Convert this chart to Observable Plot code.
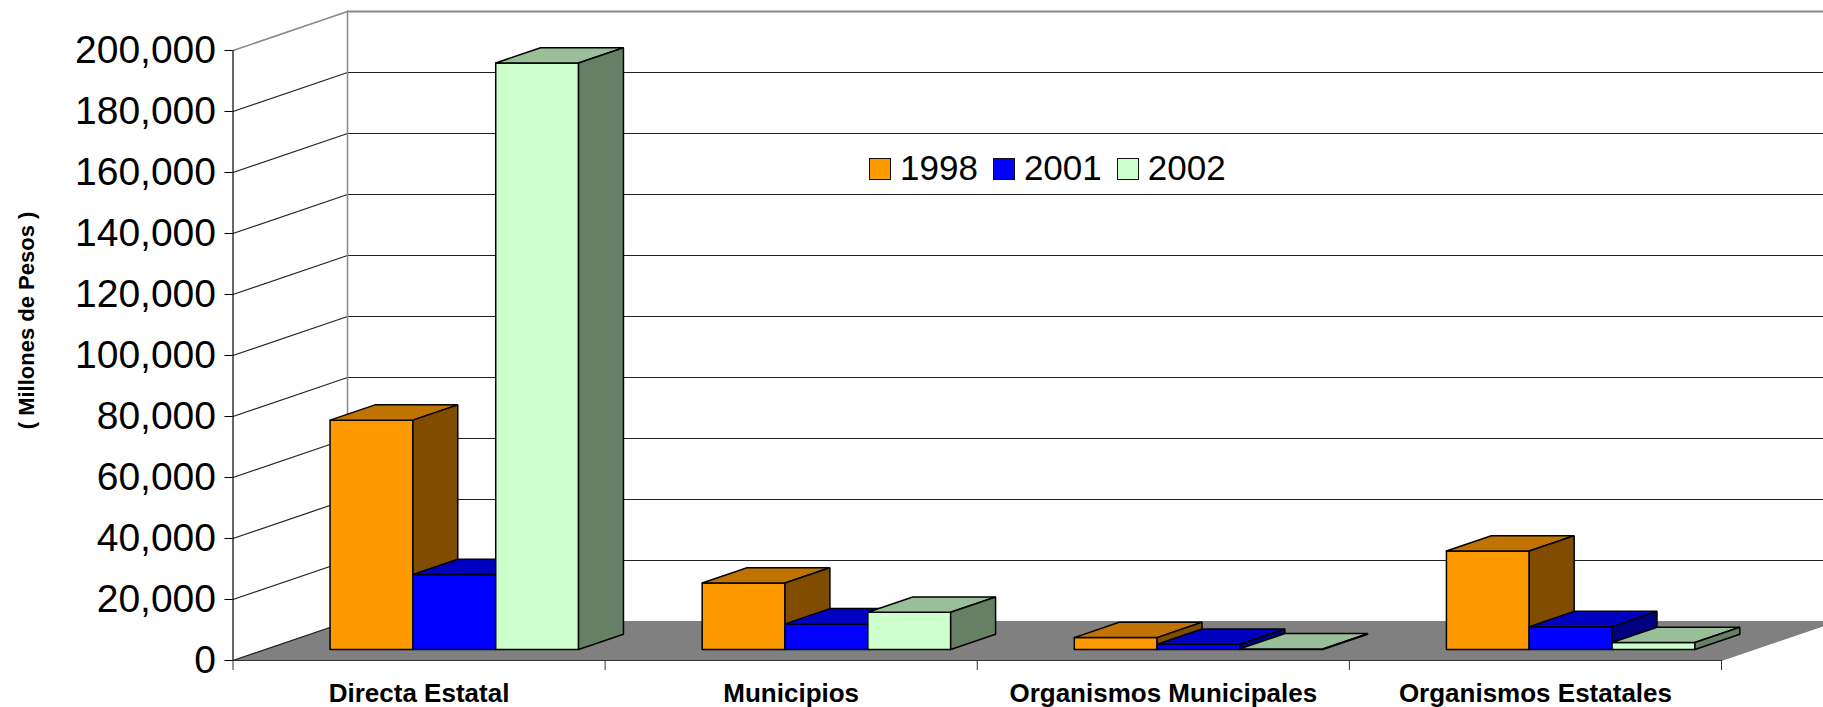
<!DOCTYPE html>
<html>
<head>
<meta charset="utf-8">
<script src="https://cdn.jsdelivr.net/npm/d3@7"></script>
<script src="https://cdn.jsdelivr.net/npm/@observablehq/plot@0.6"></script>
<style>
  html, body { margin: 0; padding: 0; background: #fff; overflow: hidden; }
  #wrap { position: relative; width: 1823px; height: 707px; overflow: hidden; }
  #wrap svg { display: block; }
  #legend { position: absolute; left: 869px; top: 150px; font-family: "Liberation Sans", Arial, sans-serif;
            font-size: 35px; line-height: 35px; white-space: nowrap; color: #000; }
  #legend .sw { display: inline-block; width: 20px; height: 20px; border: 1.5px solid #111; margin-right: 9px; }
  #legend .it { margin-right: 15px; }
</style>
</head>
<body>
<div id="wrap"></div>
<script>
const categories = ["Directa Estatal", "Municipios", "Organismos Municipales", "Organismos Estatales"];
const years = ["1998", "2001", "2002"];
const v1998 = [75200, 21800, 3900, 32300];
const v2001 = [24600, 8400, 1700, 7500];
const v2002 = [192300, 12200, 200, 2300];
const yTicks = [0, 20000, 40000, 60000, 80000, 100000, 120000, 140000, 160000, 180000, 200000];
const yTitle = "( Millones de Pesos )";

const seriesValues = [v1998, v2001, v2002];
const frontColors = ["#FF9900", "#0000FF", "#CCFFCC"];
const topColors = ["#C07300", "#0000C0", "#99BF99"];
const sideColors = ["#804C00", "#000080", "#668066"];

// oblique projection: depth d in [0,1] shifts by DX categories and DV value units
const DX = 0.3078, DV = 12787;
const D0 = 0.282, D1 = 0.674;   // bar front / back depth
const G0 = 0.174, BW = 0.2226;  // group start within category, bar width
const P = (x, v, d) => ({x: x + d * DX, y: v + d * DV});

const polys = [];
let pid = 0;
function addPoly(pts, fill) {
  const id = pid++;
  pts.concat([pts[0]]).forEach(p => polys.push({id, x: p.x, y: p.y, fill}));
}
categories.forEach((c, i) => {
  seriesValues.forEach((vals, s) => {
    const v = vals[i];
    const x0 = i + G0 + s * BW, x1 = x0 + BW;
    addPoly([P(x0, 0, D0), P(x1, 0, D0), P(x1, v, D0), P(x0, v, D0)], frontColors[s]);
    addPoly([P(x0, v, D0), P(x1, v, D0), P(x1, v, D1), P(x0, v, D1)], topColors[s]);
    addPoly([P(x1, 0, D0), P(x1, 0, D1), P(x1, v, D1), P(x1, v, D0)], sideColors[s]);
  });
});

const n = categories.length;
const yMax = yTicks[yTicks.length - 1];
const floor = [P(0, 0, 0), P(n, 0, 0), P(n, 0, 1), P(0, 0, 1)];
const wallLeft = [], wallBack = [];
yTicks.forEach(t => {
  [P(0, t, 0), P(0, t, 1)].forEach(p => wallLeft.push({t, ...p}));
  [P(0, t, 1), P(n + 0.2, t, 1)].forEach(p => wallBack.push({t, ...p}));
});
const backEdge = [P(0, 0, 1), P(0, yMax, 1)];

const plot = Plot.plot({
  width: 1823,
  height: 707,
  marginLeft: 232.5,
  marginRight: 102,
  marginTop: 50,
  marginBottom: 47,
  style: {fontFamily: "'Liberation Sans', Arial, sans-serif", color: "#000", background: "#fff", overflow: "visible"},
  x: {type: "linear", domain: [0, n], axis: null},
  y: {type: "linear", domain: [0, yMax], axis: null},
  color: {type: "identity"},
  marks: [
    Plot.line(floor.concat([floor[0]]), {x: "x", y: "y", fill: "#808080", stroke: "#808080", strokeWidth: 1}),
    Plot.line(wallLeft.filter(d => d.t !== yMax), {x: "x", y: "y", z: "t", stroke: "#222", strokeWidth: 1.2}),
    Plot.line(wallBack.filter(d => d.t !== yMax && d.t !== 0), {x: "x", y: "y", z: "t", stroke: "#222", strokeWidth: 1.2}),
    Plot.line(wallLeft.filter(d => d.t === yMax), {x: "x", y: "y", stroke: "#888", strokeWidth: 1.5}),
    Plot.line(wallBack.filter(d => d.t === yMax), {x: "x", y: "y", stroke: "#888", strokeWidth: 2}),
    Plot.line(backEdge, {x: "x", y: "y", stroke: "#888", strokeWidth: 1.5}),
    Plot.line(polys, {x: "x", y: "y", z: "id", fill: "fill", stroke: "#000", strokeWidth: 1.5, strokeLinejoin: "miter"}),
    Plot.ruleY([0], {x1: 0, x2: n, stroke: "#333", strokeWidth: 1.2}),
    Plot.ruleX([0], {y1: 0, y2: yMax, stroke: "#000", strokeWidth: 1.2}),
    Plot.axisX({ticks: d3.range(0, n + 1), tickSize: 10, tickFormat: () => "", label: null, stroke: "#333"}),
    Plot.axisY({ticks: yTicks, tickFormat: d3.format(","), tickSize: 8, tickPadding: 9, fontSize: 39, label: null, stroke: "#000"}),
    Plot.text(categories, {x: (d, i) => i + 0.5, y: 0, text: d => d, dy: 41, lineAnchor: "bottom",
      textAnchor: "middle", fontSize: 26, fontWeight: "bold", fill: "#000"}),
    Plot.text([yTitle], {frameAnchor: "left", dx: -206.5, dy: -35, rotate: -90, fontSize: 22,
      fontWeight: "bold", textAnchor: "middle", fill: "#000"})
  ]
});
const wrap = document.getElementById("wrap");
wrap.appendChild(plot);

const legend = document.createElement("div");
legend.id = "legend";
years.forEach((y, s) => {
  const it = document.createElement("span");
  it.className = "it";
  const sw = document.createElement("span");
  sw.className = "sw";
  sw.style.background = frontColors[s];
  it.appendChild(sw);
  it.appendChild(document.createTextNode(y));
  legend.appendChild(it);
});
wrap.appendChild(legend);
</script>
</body>
</html>
